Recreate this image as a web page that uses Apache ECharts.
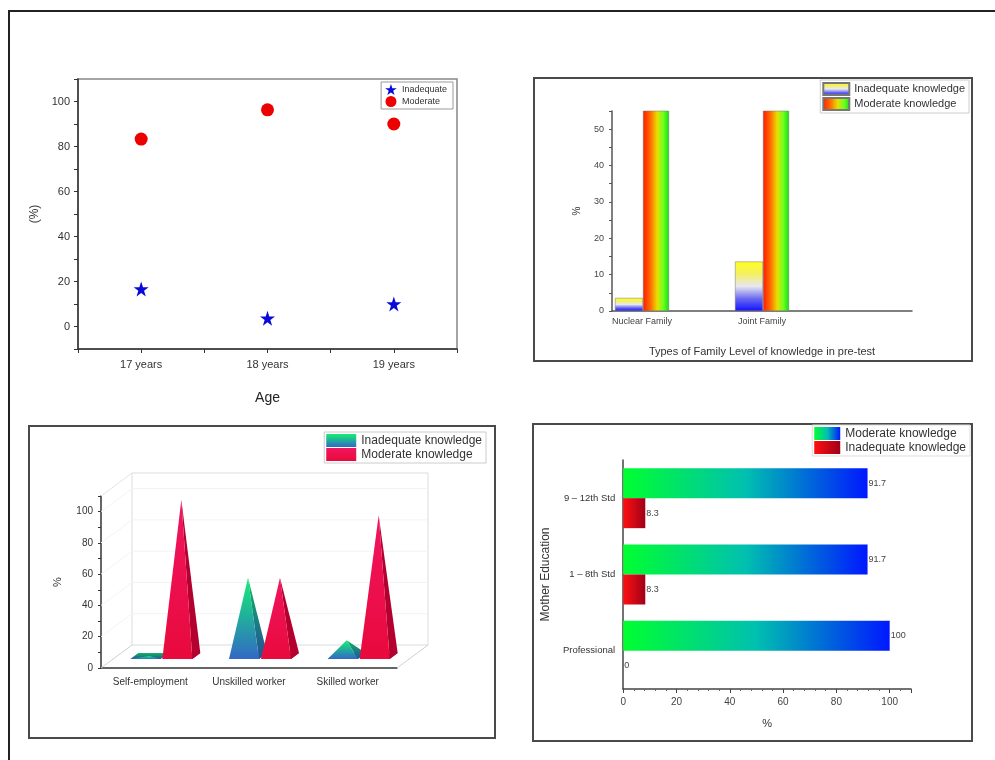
<!DOCTYPE html>
<html>
<head>
<meta charset="utf-8">
<script src="https://cdn.jsdelivr.net/npm/echarts@6/dist/echarts.min.js"></script>
<style>
  body { margin: 0; background: #fff; width: 995px; height: 760px; overflow: hidden; position: relative; font-family: "Liberation Sans", Arial, sans-serif; }
  .frame { position: absolute; left: 8px; top: 10px; width: 1000px; height: 800px; border: 2px solid #222; }
  .box { position: absolute; border: 2px solid #4a4a4a; box-sizing: border-box; }
  .chart { position: absolute; }
</style>
</head>
<body>
<div class="frame"></div>
<div class="box" style="left:533px;top:77px;width:440px;height:285px"></div>
<div class="box" style="left:28px;top:425px;width:468px;height:314px"></div>
<div class="box" style="left:532px;top:423px;width:441px;height:319px"></div>
<div id="c1" class="chart" style="left:10px;top:60px;width:480px;height:350px"></div>
<div id="c2" class="chart" style="left:533px;top:77px;width:440px;height:285px"></div>
<div id="c3" class="chart" style="left:28px;top:425px;width:468px;height:314px"></div>
<div id="c4" class="chart" style="left:532px;top:423px;width:441px;height:319px"></div>
<script>
// ---- data ----
const ages = ['17 years', '18 years', '19 years'];
const ageInadequate = [16.7, 3.7, 10];
const ageModerate = [83.3, 96.3, 90];

const familyTypes = ['Nuclear Family', '', 'Joint Family', '', ''];
const familyInadequate = [3.6, null, 13.6, null, null];
const familyModerate = [96.4, null, 86.4, null, null];

const occupations = ['Self-employment', 'Unskilled worker', 'Skilled worker'];
const occInadequate = [0, 50, 10];
const occModerate = [100, 50, 90];
const occTicks = [20, 40, 60, 80, 100];

const eduLevels = ['Professional', '1 – 8th Std', '9 – 12th Std'];
const eduInadequate = [0, 8.3, 8.3];
const eduModerate = [100, 91.7, 91.7];

const FONT = 'Liberation Sans';
const G = echarts.graphic;

// ---- chart 1: age scatter ----
const c1 = echarts.init(document.getElementById('c1'));
c1.setOption({
  animation: false,
  textStyle: { fontFamily: FONT },
  grid: { left: 68, top: 19, width: 379, height: 271, show: true, borderColor: '#888', borderWidth: 1.5 },
  legend: {
    orient: 'vertical', right: 37, top: 22, itemGap: 1, itemWidth: 12, itemHeight: 11,
    padding: [2, 6, 2, 4], borderColor: '#999', borderWidth: 1,
    textStyle: { fontSize: 9, color: '#333' },
    data: ['Inadequate', 'Moderate']
  },
  xAxis: {
    type: 'value', min: 0.5, max: 3.5, interval: 0.5,
    name: 'Age', nameLocation: 'middle', nameGap: 42,
    nameTextStyle: { fontSize: 14, color: '#222' },
    axisLine: { onZero: false, lineStyle: { color: '#333', width: 1.5 } },
    axisTick: { length: 4, lineStyle: { color: '#333' } },
    axisLabel: {
      fontSize: 11, color: '#333', margin: 10,
      formatter: v => (Number.isInteger(v) ? ages[v - 1] : '')
    },
    splitLine: { show: false }
  },
  yAxis: {
    type: 'value', min: -10, max: 110, interval: 10,
    name: '(%)', nameLocation: 'middle', nameGap: 36,
    nameTextStyle: { fontSize: 12, color: '#333' },
    axisLine: { show: true, onZero: false, lineStyle: { color: '#333', width: 1.5 } },
    axisTick: { show: true, length: 4, lineStyle: { color: '#333' } },
    axisLabel: { fontSize: 11, color: '#333', formatter: v => (v >= 0 && v <= 100 && v % 20 === 0 ? v : '') },
    splitLine: { show: false }
  },
  series: [
    {
      name: 'Inadequate', type: 'scatter',
      symbol: 'path://M12,0 L14.9,8.6 L24,8.6 L16.6,14 L19.4,22.6 L12,17.3 L4.6,22.6 L7.4,14 L0,8.6 L9.1,8.6 Z',
      symbolSize: 15, itemStyle: { color: '#0a0ad8', opacity: 1 },
      data: ageInadequate.map((v, i) => [i + 1, v])
    },
    {
      name: 'Moderate', type: 'scatter', symbol: 'circle', symbolSize: 13,
      itemStyle: { color: '#ec0000', opacity: 1 },
      data: ageModerate.map((v, i) => [i + 1, v])
    }
  ]
});

// ---- chart 2: family type bars ----
const inadGrad = new G.LinearGradient(0, 0, 0, 1, [
  { offset: 0, color: '#ffff20' }, { offset: 0.25, color: '#f4f060' },
  { offset: 0.5, color: '#e8e8f0' }, { offset: 0.75, color: '#6a6af0' }, { offset: 1, color: '#1010ff' }
]);
const modGrad = new G.LinearGradient(0, 0, 1, 0, [
  { offset: 0, color: '#ff1a00' }, { offset: 0.3, color: '#ff7000' },
  { offset: 0.55, color: '#e6e000' }, { offset: 0.78, color: '#70ff20' }, { offset: 1, color: '#10e010' }
]);
const c2 = echarts.init(document.getElementById('c2'));
c2.setOption({
  animation: false,
  textStyle: { fontFamily: FONT },
  grid: { left: 79, top: 34, width: 300, height: 202 },
  legend: {
    orient: 'vertical', right: 4, top: 3, itemGap: 1, itemWidth: 26, itemHeight: 12, icon: 'rect',
    padding: [2, 4, 2, 2], borderColor: '#ccc', borderWidth: 1,
    textStyle: { fontSize: 11, color: '#333' },
    data: ['Inadequate knowledge', 'Moderate knowledge']
  },
  xAxis: {
    type: 'category', data: familyTypes,
    name: 'Types of Family Level of knowledge in pre-test', nameLocation: 'middle', nameGap: 35,
    nameTextStyle: { fontSize: 11, color: '#333' },
    axisLine: { lineStyle: { color: '#555', width: 1.5 } },
    axisTick: { alignWithLabel: true, interval: 0, length: 3, lineStyle: { color: '#555' } },
    axisLabel: { fontSize: 9, color: '#444', margin: 6, interval: 0 }
  },
  yAxis: {
    type: 'value', min: 0, max: 55, interval: 5,
    name: '%', nameLocation: 'middle', nameGap: 30,
    nameTextStyle: { fontSize: 10, color: '#333' },
    axisLine: { show: true, lineStyle: { color: '#555', width: 1.5 } },
    axisTick: { show: true, length: 3, lineStyle: { color: '#555' } },
    axisLabel: { fontSize: 9, color: '#444', formatter: v => (v % 10 === 0 ? v : '') },
    splitLine: { show: false }
  },
  series: [
    {
      name: 'Inadequate knowledge', type: 'bar', barWidth: 28, barGap: '0%',
      itemStyle: { color: inadGrad, borderColor: '#777', borderWidth: 0.5 },
      data: familyInadequate
    },
    {
      name: 'Moderate knowledge', type: 'bar', barWidth: 26, barGap: '0%',
      itemStyle: { color: modGrad, borderColor: '#777', borderWidth: 0.5 },
      data: familyModerate
    }
  ]
});

// ---- chart 3: pseudo 3D pyramids ----
const DX = 31, DY = -23;      // depth of the box
const SX = 8, SY = 6;         // depth of one pyramid
const greenBlue = new G.LinearGradient(0, 0, 0, 1, [
  { offset: 0, color: '#12f074' }, { offset: 1, color: '#3268c6' }
]);
const greenBlueSide = new G.LinearGradient(0, 0, 0, 1, [
  { offset: 0, color: '#0fb860' }, { offset: 1, color: '#24509a' }
]);
const crimson = new G.LinearGradient(0, 0, 0, 1, [
  { offset: 0, color: '#f01560' }, { offset: 1, color: '#e80a3c' }
]);
function pyramid(offL, front, side) {
  return function (params, api) {
    const i = api.value(0), v = api.value(1);
    const base = api.coord([i, 0]), top = api.coord([i, v]);
    const L = base[0] + offL, R = L + 30, yb = base[1] - 9;
    const ax = (L + R) / 2 + SX / 2, ay = top[1] - 9 - SY / 2;
    return {
      type: 'group',
      children: [
        { type: 'polygon', shape: { points: [[L, yb], [R, yb], [R + SX, yb - SY], [L + SX, yb - SY]] }, style: { fill: side } },
        { type: 'polygon', shape: { points: [[R, yb], [R + SX, yb - SY], [ax, ay]] }, style: { fill: side } },
        { type: 'polygon', shape: { points: [[L, yb], [R, yb], [ax, ay]] }, style: { fill: front } }
      ]
    };
  };
}
function walls(params, api) {
  const cs = params.coordSys;
  const x = cs.x, y = cs.y, w = cs.width, h = cs.height;
  const line = (x1, y1, x2, y2, c) => ({ type: 'line', shape: { x1, y1, x2, y2 }, style: { stroke: c, lineWidth: 1 } });
  const kids = [
    { type: 'rect', shape: { x: x + DX, y: y + DY, width: w, height: h }, style: { fill: '#fff', stroke: '#dcdcdc', lineWidth: 1 } },
    line(x, y, x + DX, y + DY, '#e4e4e4'),
    line(x, y + h, x + DX, y + h + DY, '#cfcfcf'),
    line(x + w, y + h, x + w + DX, y + h + DY, '#cfcfcf')
  ];
  occTicks.forEach(t => {
    const p = api.coord([0, t]);
    kids.push(line(x + DX, p[1] + DY, x + w + DX, p[1] + DY, '#f3f3f3'));
    kids.push(line(x, p[1], x + DX, p[1] + DY, '#f3f3f3'));
  });
  return { type: 'group', children: kids };
}
const c3 = echarts.init(document.getElementById('c3'));
c3.setOption({
  animation: false,
  textStyle: { fontFamily: FONT },
  grid: { left: 73, top: 71, width: 296, height: 172 },
  legend: {
    orient: 'vertical', right: 10, top: 7, itemGap: 1, itemWidth: 30, itemHeight: 13,
    padding: [2, 4, 2, 2], borderColor: '#ccc', borderWidth: 1, icon: 'rect',
    textStyle: { fontSize: 12, color: '#333' },
    data: ['Inadequate knowledge', 'Moderate knowledge']
  },
  xAxis: {
    type: 'category', data: occupations,
    axisLine: { lineStyle: { color: '#333', width: 1.5 } },
    axisTick: { alignWithLabel: true, length: 3, lineStyle: { color: '#333' } },
    axisLabel: { fontSize: 10, color: '#333', margin: 9 }
  },
  yAxis: {
    type: 'value', min: 0, max: 110, interval: 10,
    name: '%', nameLocation: 'middle', nameGap: 38,
    nameTextStyle: { fontSize: 11, color: '#333' },
    axisLine: { show: true, lineStyle: { color: '#333', width: 1.5 } },
    axisTick: { show: true, length: 3, lineStyle: { color: '#333' } },
    axisLabel: { fontSize: 10, color: '#333', formatter: v => (v % 20 === 0 && v <= 100 ? v : '') },
    splitLine: { show: false }
  },
  series: [
    { type: 'custom', silent: true, z: 1, renderItem: walls, data: [[0, 0]], encode: { x: 0, y: 1 } },
    {
      name: 'Inadequate knowledge', type: 'custom', z: 2, itemStyle: { color: greenBlue },
      renderItem: pyramid(-20, greenBlue, greenBlueSide), encode: { x: 0, y: 1 },
      data: occInadequate.map((v, i) => [i, v])
    },
    {
      name: 'Moderate knowledge', type: 'custom', z: 2, itemStyle: { color: crimson },
      renderItem: pyramid(12, crimson, '#b4002e'), encode: { x: 0, y: 1 },
      data: occModerate.map((v, i) => [i, v])
    }
  ]
});

// ---- chart 4: mother education horizontal bars ----
const c4 = echarts.init(document.getElementById('c4'));
c4.setOption({
  animation: false,
  textStyle: { fontFamily: FONT },
  grid: { left: 78, top: 37, width: 301, height: 229 },
  legend: {
    orient: 'vertical', right: 3, top: 2, itemGap: 1, itemWidth: 26, itemHeight: 13, icon: 'rect',
    padding: [2, 4, 2, 2], borderColor: '#ddd', borderWidth: 1,
    textStyle: { fontSize: 12, color: '#333' },
    data: ['Moderate knowledge', 'Inadequate knowledge']
  },
  xAxis: {
    type: 'value', min: 0, max: 108, interval: 20,
    name: '%', nameLocation: 'middle', nameGap: 29,
    nameTextStyle: { fontSize: 11, color: '#333' },
    axisLine: { show: true, lineStyle: { color: '#444', width: 1.5 } },
    axisTick: { show: true, length: 4, lineStyle: { color: '#444' } },
    minorTick: { show: true, splitNumber: 5, length: 2, lineStyle: { color: '#666' } },
    axisLabel: { fontSize: 10, color: '#444', showMaxLabel: false },
    splitLine: { show: false }
  },
  yAxis: {
    type: 'category', data: eduLevels,
    name: 'Mother Education', nameLocation: 'middle', nameGap: 67,
    nameTextStyle: { fontSize: 12, color: '#333' },
    axisLine: { lineStyle: { color: '#444', width: 1.5 } },
    axisTick: { alignWithLabel: true, length: 3, lineStyle: { color: '#444' } },
    axisLabel: { fontSize: 9.5, color: '#333' }
  },
  series: [
    {
      name: 'Moderate knowledge', type: 'bar', barWidth: 30, barGap: '0%',
      itemStyle: { color: new G.LinearGradient(0, 0, 1, 0, [{ offset: 0, color: '#00ff30' }, { offset: 0.5, color: '#00c0b0' }, { offset: 1, color: '#0018ff' }]) },
      label: { show: true, position: 'right', distance: 1, fontSize: 9, color: '#444' },
      data: eduModerate
    },
    {
      name: 'Inadequate knowledge', type: 'bar', barWidth: 30, barGap: '0%',
      itemStyle: { color: new G.LinearGradient(0, 0, 1, 0, [{ offset: 0, color: '#ff1010' }, { offset: 1, color: '#a00018' }]) },
      label: { show: true, position: 'right', distance: 1, fontSize: 9, color: '#444' },
      data: eduInadequate
    }
  ]
});
</script>
</body>
</html>
